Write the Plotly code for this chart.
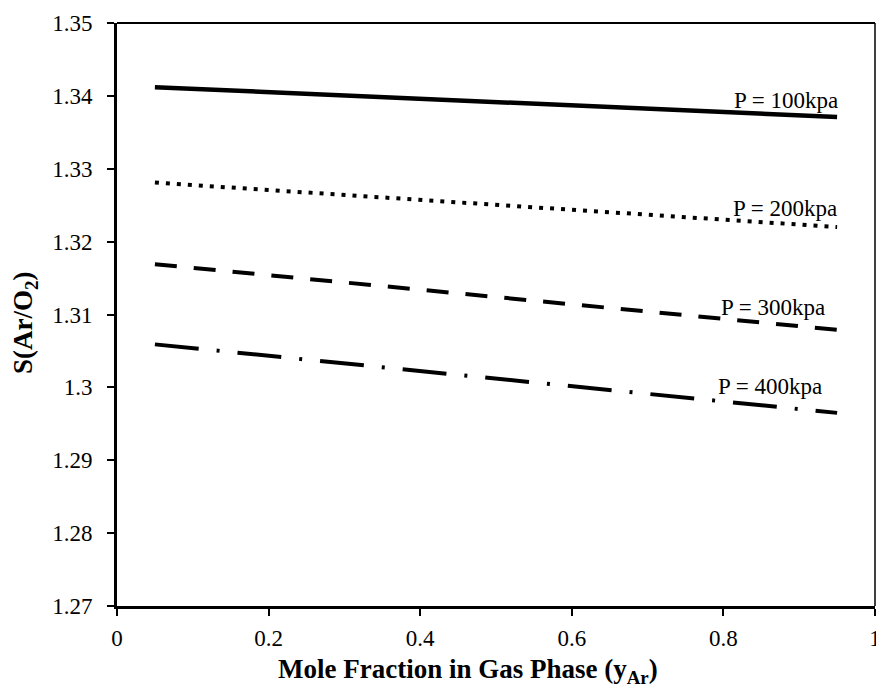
import plotly.graph_objects as go

# Mole fraction of argon in the gas phase
y_ar = [0.05, 0.5, 0.95]

# Selectivity S(Ar/O2) at each pressure
s_100 = [1.3412, 1.3391, 1.3371]
s_200 = [1.3281, 1.3250, 1.3220]
s_300 = [1.3169, 1.3124, 1.3079]
s_400 = [1.3059, 1.3012, 1.2965]

series_names = ["P = 100kpa", "P = 200kpa", "P = 300kpa", "P = 400kpa"]
series_values = [s_100, s_200, s_300, s_400]
dash_styles = ["solid", "4px,7px", "22px,17px", "44px,18px,3px,18px"]
line_widths = [4.5, 4, 4, 4]

# label anchor points (x, y) for each curve annotation
label_x = [0.8826, 0.881, 0.8654, 0.8615]
label_y = [1.3394, 1.3245, 1.3110, 1.3001]

x_ticks = [0, 0.2, 0.4, 0.6, 0.8, 1]
x_tick_text = ["0", "0.2", "0.4", "0.6", "0.8", "1"]
y_ticks = [1.27, 1.28, 1.29, 1.30, 1.31, 1.32, 1.33, 1.34, 1.35]
y_tick_text = ["1.27", "1.28", "1.29", "1.3", "1.31", "1.32", "1.33", "1.34", "1.35"]

FONT = "Liberation Serif"

fig = go.Figure()
for name, vals, dash, w in zip(series_names, series_values, dash_styles, line_widths):
    fig.add_trace(go.Scatter(
        x=y_ar, y=vals, mode="lines", name=name,
        line=dict(color="black", width=w, dash=dash),
        showlegend=False, hoverinfo="skip",
    ))

for name, lx, ly in zip(series_names, label_x, label_y):
    fig.add_annotation(
        x=lx, y=ly, text=name, showarrow=False,
        xanchor="center", yanchor="middle",
        font=dict(family=FONT, size=23, color="black"),
    )

# axis titles
fig.add_annotation(
    xref="paper", yref="paper", x=0.463, y=-0.112,
    text="<b>Mole Fraction in Gas Phase (y<sub>Ar</sub>)</b>",
    showarrow=False, xanchor="center", yanchor="middle",
    font=dict(family=FONT, size=27, color="black"),
)
fig.add_annotation(
    xref="paper", yref="paper", x=-0.1214, y=0.4854,
    text="<b>S(Ar/O<sub>2</sub>)</b>", textangle=-90,
    showarrow=False, xanchor="center", yanchor="middle",
    font=dict(family=FONT, size=27, color="black"),
)

# thin top and right frame edges
fig.add_shape(type="line", xref="paper", yref="paper", x0=0, x1=1, y0=1, y1=1,
              line=dict(color="black", width=2), layer="below")
fig.add_shape(type="line", xref="paper", yref="paper", x0=1, x1=1, y0=0, y1=1,
              line=dict(color="black", width=1.5), layer="below")

fig.update_layout(
    width=876, height=688,
    margin=dict(l=117, r=1, t=23, b=82),
    paper_bgcolor="white", plot_bgcolor="white",
    font=dict(family=FONT, size=22, color="black"),
    xaxis=dict(
        range=[0, 1], tickvals=x_ticks, ticktext=x_tick_text,
        showgrid=False, zeroline=False,
        showline=True, linecolor="black", linewidth=3,
        ticks="outside", ticklen=7, tickwidth=2, tickcolor="black",
        tickfont=dict(family=FONT, size=23, color="black"),
        ticklabeloverflow="allow", ticklabelstandoff=2,
        automargin=False,
    ),
    yaxis=dict(
        range=[1.27, 1.35], tickvals=y_ticks, ticktext=y_tick_text,
        showgrid=False, zeroline=False,
        showline=True, linecolor="black", linewidth=3,
        ticks="outside", ticklen=7, tickwidth=2, tickcolor="black",
        tickfont=dict(family=FONT, size=23, color="black"),
        ticklabeloverflow="allow", ticklabelstandoff=10,
        automargin=False,
    ),
)

fig.write_html("out.html")
